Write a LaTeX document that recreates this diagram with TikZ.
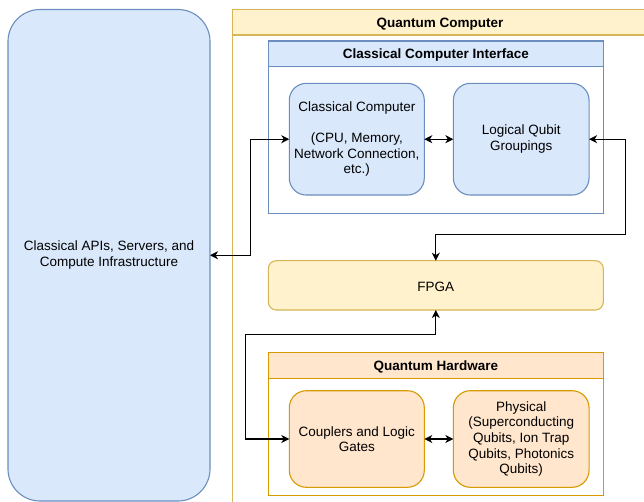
\documentclass[tikz,border=0pt]{standalone}
\usepackage{fontspec}
\setmainfont{Liberation Sans}
\usetikzlibrary{arrows.meta}
\definecolor{bfill}{HTML}{DAE8FC}
\definecolor{bdraw}{HTML}{6C8EBF}
\definecolor{yfill}{HTML}{FFF2CC}
\definecolor{ydraw}{HTML}{D6B656}
\definecolor{ofill}{HTML}{FFE6CC}
\definecolor{odraw}{HTML}{D79B00}
\begin{document}
\begin{tikzpicture}[x=1pt,y=-1pt,line width=1.1pt,
  box/.style={inner sep=0pt,outer sep=0pt,align=center,
    font=\fontsize{13.5}{15.6}\selectfont,
    execute at begin node={\rule{0pt}{12.6pt}}},
  bluebox/.style={box,draw=bdraw,fill=bfill},
  yelbox/.style={box,draw=ydraw,fill=yfill},
  orabox/.style={box,draw=odraw,fill=ofill},
  frame/.style={box,fill=white,anchor=north west},
  head/.style={box,anchor=north west,font=\fontsize{13.5}{15.6}\selectfont\bfseries},
  tip/.tip={Stealth[length=8pt,width=8pt,inset=2.4pt]},
  conn/.style={draw=black,line width=1.2pt,line join=miter,tip-tip}]
\useasboundingbox (0,0) rectangle (644,502);
\clip (0,0) rectangle (644,502);

% left box
\node[bluebox,rounded corners=32,minimum width=202,minimum height=491.5] (api) at (109,255.25)
  {Classical APIs, Servers, and\\Compute Infrastructure};

% quantum computer container
\node[frame,draw=ydraw,minimum width=415,minimum height=520] (qc) at (232.5,9.5) {};
\node[head,draw=ydraw,fill=yfill,minimum width=415,minimum height=25.5] (qchead) at (232.5,9.5) {Quantum Computer};

% classical computer interface
\node[frame,draw=bdraw,minimum width=335,minimum height=172.3] (cci) at (268.3,41) {};
\node[head,draw=bdraw,fill=bfill,minimum width=335,minimum height=25.7] (ccihead) at (268.3,41) {Classical Computer Interface};

\node[bluebox,rounded corners=17,minimum width=135,minimum height=111.7] (cc) at (356.8,139.2)
  {Classical Computer\\\mbox{}\\(CPU, Memory,\\Network Connection,\\etc.)};
\node[bluebox,rounded corners=17,minimum width=135.7,minimum height=111.7] (lqg) at (521.2,139.2)
  {Logical Qubit\\Groupings};

% FPGA
\node[yelbox,rounded corners=8,minimum width=335,minimum height=49.3] (fpga) at (435.8,285.35) {FPGA};

% quantum hardware
\node[frame,draw=odraw,minimum width=335,minimum height=143] (qh) at (268.3,352.7) {};
\node[head,draw=odraw,fill=ofill,minimum width=335,minimum height=25.6] (qhhead) at (268.3,352.7) {Quantum Hardware};

\node[orabox,rounded corners=17,minimum width=135,minimum height=96.6] (cl) at (356.8,439)
  {Couplers and Logic\\Gates};
\node[orabox,rounded corners=17,minimum width=135.7,minimum height=96.6] (ph) at (521.2,439)
  {Physical\\(Superconducting\\Qubits, Ion Trap\\Qubits, Photonics\\Qubits)};

% connectors
\draw[conn] (api.east) -- ++(40.5,0) |- (cc.west);
\draw[conn] (cc.east) -- (lqg.west);
\draw[conn] (lqg.east) -| (625.7,234.3) -| (fpga.north);
\draw[conn] (fpga.south) |- (245.7,334.8) |- (cl.west);
\draw[conn] (cl.east) -- (ph.west);
\end{tikzpicture}
\end{document}
